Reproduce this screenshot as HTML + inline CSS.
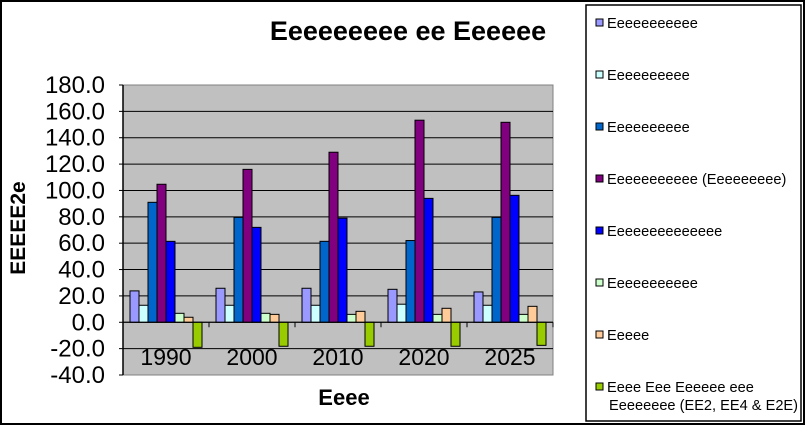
<!DOCTYPE html>
<html><head><meta charset="utf-8">
<style>
html,body{margin:0;padding:0;background:#fff;}
svg{display:block;font-family:"Liberation Sans",Arial,sans-serif;}
</style></head>
<body>
<svg id="chart" width="806" height="426" viewBox="0 0 806 426">
  <rect x="1" y="1" width="803" height="423" fill="#fff" stroke="#000" stroke-width="2"/>
  <text x="408" y="40" text-anchor="middle" font-size="27" font-weight="bold">Eeeeeeeee ee Eeeeee</text>
  <rect x="123" y="85" width="430" height="290" fill="#c0c0c0" stroke="#808080" stroke-width="1"/>
  <g id="grid"></g>
  <g id="bars"></g>
  <g id="axes"></g>
  <text transform="translate(25,228) rotate(-90)" text-anchor="middle" font-size="21" font-weight="bold">EEEEE2e</text>
  <text x="344" y="405" text-anchor="middle" font-size="22" font-weight="bold">Eeee</text>
  <rect x="586" y="5" width="215" height="416" fill="#fff" stroke="#000" stroke-width="1.5"/>
  <g id="legend"></g>
</svg>
<script>
const categories = ["1990","2000","2010","2020","2025"];
const seriesNames = ["Eeeeeeeeeee","Eeeeeeeeee","Eeeeeeeeee","Eeeeeeeeeee (Eeeeeeeee)","Eeeeeeeeeeeeee","Eeeeeeeeeee","Eeeee","Eeee Eee Eeeeee eee|Eeeeeeee (EE2, EE4 & E2E)"];
const seriesColors = ["#9999ff","#ccffff","#0066cc","#800080","#0000ff","#ccffcc","#ffcc99","#99cc00"];
const s1 = [23.8,25.8,25.8,25.0,23.0];
const s2 = [12.9,12.9,12.9,13.7,12.9];
const s3 = [91.0,79.6,61.4,62.0,79.6];
const s4 = [104.7,116.0,129.0,153.3,151.7];
const s5 = [61.4,72.0,79.0,94.0,96.3];
const s6 = [6.8,6.8,6.0,6.0,6.0];
const s7 = [3.8,6.0,8.3,10.6,12.1];
const s8 = [-19.0,-18.2,-18.2,-18.2,-17.5];
const series = [s1,s2,s3,s4,s5,s6,s7,s8];
const yTicks = [-40,-20,0,20,40,60,80,100,120,140,160,180];

const NS="http://www.w3.org/2000/svg";
const plotL=123, plotR=553, plotT=85, plotB=375, yMin=-40, yMax=180;
function y(v){return plotB-(v-yMin)/(yMax-yMin)*(plotB-plotT);}
const groupW=(plotR-plotL)/categories.length;
const barW=9;
function xBar(c,s){return plotL+c*groupW+7+s*barW;}
function mk(tag,attrs,parent){const e=document.createElementNS(NS,tag);for(const k in attrs)e.setAttribute(k,attrs[k]);parent.appendChild(e);return e;}

const grid=document.getElementById('grid'), axes=document.getElementById('axes'), bars=document.getElementById('bars'), leg=document.getElementById('legend');
yTicks.forEach(t=>{
  if(t!==yMin && t!==yMax){
    const l=mk('line',{x1:plotL,x2:plotR,y1:y(t),y2:y(t),stroke:'#000','stroke-width':1},grid);
    
    
  }
  const tk=mk('line',{x1:plotL-4,x2:plotL,y1:y(t),y2:y(t),stroke:'#000'},axes);
  
  
  const tx=mk('text',{x:105,y:y(t)+8,'text-anchor':'end','font-size':24},axes);
  tx.textContent=t.toFixed(1);
  
  
});
const ya=mk('line',{x1:plotL,x2:plotL,y1:plotT,y2:plotB,stroke:'#000','stroke-width':1.5},axes);


const xa=mk('line',{x1:plotL,x2:plotR,y1:y(0),y2:y(0),stroke:'#000','stroke-width':1},axes);


categories.forEach((c,i)=>{
  const tk=mk('line',{x1:plotL+(i+1)*groupW,x2:plotL+(i+1)*groupW,y1:y(0),y2:y(0)+5,stroke:'#000'},axes);
  
  
  const tx=mk('text',{x:plotL+(i+0.5)*groupW,y:365,'text-anchor':'middle','font-size':23},axes);
  tx.textContent=c;
  
  
});
series.forEach((vals,s)=>{
  vals.forEach((v,c)=>{
    const top=Math.min(y(v),y(0)), h=Math.abs(y(v)-y(0));
    const r=mk('rect',{x:xBar(c,s),y:top,width:barW,height:h,fill:seriesColors[s],stroke:'#000','stroke-width':1},bars);
    
    
  });
});
const legY=[23,75,127,179,231,283,335,387];
seriesNames.forEach((n,i)=>{
  const g=mk('g',{},leg);
  
  
  mk('rect',{x:596,y:legY[i]-4,width:7,height:7,fill:seriesColors[i],stroke:'#000','stroke-width':1},g);
  const lines=n.split('|');
  lines.forEach((ln,k)=>{
    const t=mk('text',{x:k===0?607:609,y:legY[i]+5+k*18,'font-size':14.6},g);
    t.textContent=ln;
  });
});
</script>
</body></html>
